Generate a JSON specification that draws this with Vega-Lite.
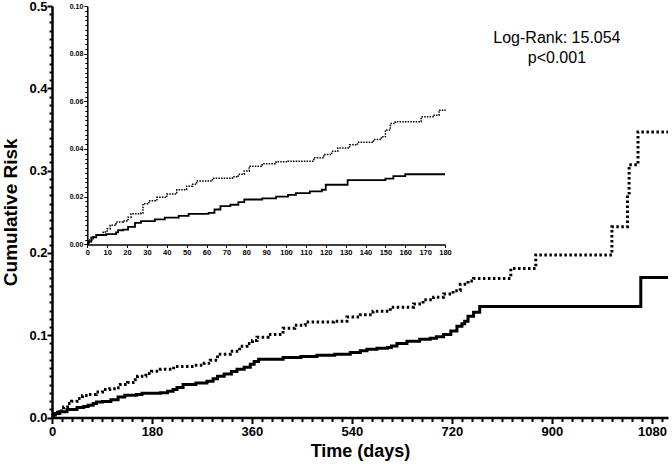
{
  "$schema": "https://vega.github.io/schema/vega-lite/v6.json",
  "width": 616,
  "height": 411.5,
  "autosize": {"type": "none"},
  "padding": {"left": 52, "top": 6, "right": 4, "bottom": 50.5},
  "config": {
    "view": {"stroke": null},
    "axis": {"grid": false, "domainColor": "black", "tickColor": "black", "labelColor": "black", "titleColor": "black", "labelFont": "Liberation Sans", "titleFont": "Liberation Sans", "labelOverlap": false}
  },
  "datasets": {
    "main": [
      {"day": 0, "risk": 0, "group": "A"},
      {"day": 2, "risk": 0.003, "group": "A"},
      {"day": 6, "risk": 0.005, "group": "A"},
      {"day": 14, "risk": 0.007, "group": "A"},
      {"day": 27, "risk": 0.0097, "group": "A"},
      {"day": 45, "risk": 0.012, "group": "A"},
      {"day": 57, "risk": 0.0134, "group": "A"},
      {"day": 65, "risk": 0.015, "group": "A"},
      {"day": 74, "risk": 0.017, "group": "A"},
      {"day": 80, "risk": 0.0188, "group": "A"},
      {"day": 91, "risk": 0.0195, "group": "A"},
      {"day": 106, "risk": 0.0215, "group": "A"},
      {"day": 119, "risk": 0.025, "group": "A"},
      {"day": 131, "risk": 0.027, "group": "A"},
      {"day": 152, "risk": 0.028, "group": "A"},
      {"day": 162, "risk": 0.0294, "group": "A"},
      {"day": 195, "risk": 0.030, "group": "A"},
      {"day": 208, "risk": 0.032, "group": "A"},
      {"day": 218, "risk": 0.034, "group": "A"},
      {"day": 225, "risk": 0.0366, "group": "A"},
      {"day": 236, "risk": 0.040, "group": "A"},
      {"day": 259, "risk": 0.042, "group": "A"},
      {"day": 279, "risk": 0.044, "group": "A"},
      {"day": 290, "risk": 0.047, "group": "A"},
      {"day": 298, "risk": 0.050, "group": "A"},
      {"day": 310, "risk": 0.053, "group": "A"},
      {"day": 323, "risk": 0.056, "group": "A"},
      {"day": 333, "risk": 0.0585, "group": "A"},
      {"day": 346, "risk": 0.061, "group": "A"},
      {"day": 357, "risk": 0.0646, "group": "A"},
      {"day": 364, "risk": 0.068, "group": "A"},
      {"day": 372, "risk": 0.0707, "group": "A"},
      {"day": 416, "risk": 0.073, "group": "A"},
      {"day": 448, "risk": 0.074, "group": "A"},
      {"day": 477, "risk": 0.0756, "group": "A"},
      {"day": 509, "risk": 0.077, "group": "A"},
      {"day": 537, "risk": 0.079, "group": "A"},
      {"day": 555, "risk": 0.081, "group": "A"},
      {"day": 567, "risk": 0.083, "group": "A"},
      {"day": 585, "risk": 0.084, "group": "A"},
      {"day": 604, "risk": 0.085, "group": "A"},
      {"day": 611, "risk": 0.087, "group": "A"},
      {"day": 621, "risk": 0.090, "group": "A"},
      {"day": 639, "risk": 0.0927, "group": "A"},
      {"day": 662, "risk": 0.095, "group": "A"},
      {"day": 681, "risk": 0.0963, "group": "A"},
      {"day": 692, "risk": 0.098, "group": "A"},
      {"day": 705, "risk": 0.101, "group": "A"},
      {"day": 718, "risk": 0.105, "group": "A"},
      {"day": 729, "risk": 0.111, "group": "A"},
      {"day": 738, "risk": 0.114, "group": "A"},
      {"day": 743, "risk": 0.117, "group": "A"},
      {"day": 749, "risk": 0.123, "group": "A"},
      {"day": 759, "risk": 0.128, "group": "A"},
      {"day": 770, "risk": 0.135, "group": "A"},
      {"day": 1060, "risk": 0.170, "group": "A"},
      {"day": 1109, "risk": 0.170, "group": "A"},
      {"day": 0, "risk": 0, "group": "B"},
      {"day": 4, "risk": 0.004, "group": "B"},
      {"day": 10, "risk": 0.0065, "group": "B"},
      {"day": 17, "risk": 0.0098, "group": "B"},
      {"day": 21, "risk": 0.0128, "group": "B"},
      {"day": 28, "risk": 0.017, "group": "B"},
      {"day": 35, "risk": 0.0197, "group": "B"},
      {"day": 45, "risk": 0.023, "group": "B"},
      {"day": 55, "risk": 0.0266, "group": "B"},
      {"day": 65, "risk": 0.028, "group": "B"},
      {"day": 80, "risk": 0.031, "group": "B"},
      {"day": 91, "risk": 0.034, "group": "B"},
      {"day": 104, "risk": 0.035, "group": "B"},
      {"day": 116, "risk": 0.0363, "group": "B"},
      {"day": 123, "risk": 0.040, "group": "B"},
      {"day": 136, "risk": 0.0425, "group": "B"},
      {"day": 150, "risk": 0.046, "group": "B"},
      {"day": 154, "risk": 0.050, "group": "B"},
      {"day": 169, "risk": 0.0535, "group": "B"},
      {"day": 179, "risk": 0.0563, "group": "B"},
      {"day": 195, "risk": 0.0585, "group": "B"},
      {"day": 219, "risk": 0.062, "group": "B"},
      {"day": 255, "risk": 0.0634, "group": "B"},
      {"day": 274, "risk": 0.066, "group": "B"},
      {"day": 285, "risk": 0.0697, "group": "B"},
      {"day": 298, "risk": 0.0768, "group": "B"},
      {"day": 321, "risk": 0.0805, "group": "B"},
      {"day": 338, "risk": 0.0866, "group": "B"},
      {"day": 351, "risk": 0.090, "group": "B"},
      {"day": 361, "risk": 0.0935, "group": "B"},
      {"day": 369, "risk": 0.0976, "group": "B"},
      {"day": 389, "risk": 0.101, "group": "B"},
      {"day": 416, "risk": 0.1085, "group": "B"},
      {"day": 437, "risk": 0.112, "group": "B"},
      {"day": 456, "risk": 0.1159, "group": "B"},
      {"day": 507, "risk": 0.117, "group": "B"},
      {"day": 531, "risk": 0.122, "group": "B"},
      {"day": 555, "risk": 0.125, "group": "B"},
      {"day": 578, "risk": 0.129, "group": "B"},
      {"day": 609, "risk": 0.134, "group": "B"},
      {"day": 651, "risk": 0.138, "group": "B"},
      {"day": 668, "risk": 0.143, "group": "B"},
      {"day": 687, "risk": 0.146, "group": "B"},
      {"day": 705, "risk": 0.150, "group": "B"},
      {"day": 722, "risk": 0.154, "group": "B"},
      {"day": 735, "risk": 0.162, "group": "B"},
      {"day": 749, "risk": 0.166, "group": "B"},
      {"day": 759, "risk": 0.169, "group": "B"},
      {"day": 826, "risk": 0.181, "group": "B"},
      {"day": 871, "risk": 0.1976, "group": "B"},
      {"day": 1008, "risk": 0.2317, "group": "B"},
      {"day": 1036, "risk": 0.27, "group": "B"},
      {"day": 1039, "risk": 0.307, "group": "B"},
      {"day": 1055, "risk": 0.347, "group": "B"},
      {"day": 1109, "risk": 0.347, "group": "B"}
    ],
    "inset": [
      {"day": 0, "risk": 0, "group": "A"},
      {"day": 0.5, "risk": 0.0011, "group": "A"},
      {"day": 2, "risk": 0.0029, "group": "A"},
      {"day": 4.5, "risk": 0.0039, "group": "A"},
      {"day": 9.5, "risk": 0.0043, "group": "A"},
      {"day": 14.5, "risk": 0.005, "group": "A"},
      {"day": 15.5, "risk": 0.0059, "group": "A"},
      {"day": 18, "risk": 0.0062, "group": "A"},
      {"day": 20.5, "risk": 0.0073, "group": "A"},
      {"day": 24, "risk": 0.009, "group": "A"},
      {"day": 27, "risk": 0.0097, "group": "A"},
      {"day": 34, "risk": 0.0105, "group": "A"},
      {"day": 39, "risk": 0.0112, "group": "A"},
      {"day": 46, "risk": 0.0119, "group": "A"},
      {"day": 51, "risk": 0.0128, "group": "A"},
      {"day": 61, "risk": 0.0132, "group": "A"},
      {"day": 64, "risk": 0.0146, "group": "A"},
      {"day": 67, "risk": 0.016, "group": "A"},
      {"day": 72, "risk": 0.0166, "group": "A"},
      {"day": 76, "risk": 0.0177, "group": "A"},
      {"day": 79, "risk": 0.0188, "group": "A"},
      {"day": 88, "risk": 0.0193, "group": "A"},
      {"day": 95, "risk": 0.02, "group": "A"},
      {"day": 101, "risk": 0.0207, "group": "A"},
      {"day": 105, "risk": 0.0215, "group": "A"},
      {"day": 112, "risk": 0.0222, "group": "A"},
      {"day": 118, "risk": 0.0229, "group": "A"},
      {"day": 120, "risk": 0.025, "group": "A"},
      {"day": 131, "risk": 0.0269, "group": "A"},
      {"day": 150, "risk": 0.0276, "group": "A"},
      {"day": 154, "risk": 0.0286, "group": "A"},
      {"day": 160, "risk": 0.0294, "group": "A"},
      {"day": 180, "risk": 0.0294, "group": "A"},
      {"day": 0, "risk": 0, "group": "B"},
      {"day": 1, "risk": 0.0018, "group": "B"},
      {"day": 3, "risk": 0.0032, "group": "B"},
      {"day": 4.5, "risk": 0.0039, "group": "B"},
      {"day": 8, "risk": 0.0052, "group": "B"},
      {"day": 10, "risk": 0.0065, "group": "B"},
      {"day": 11.5, "risk": 0.008, "group": "B"},
      {"day": 14.5, "risk": 0.0094, "group": "B"},
      {"day": 18, "risk": 0.0098, "group": "B"},
      {"day": 20.5, "risk": 0.0114, "group": "B"},
      {"day": 22, "risk": 0.0128, "group": "B"},
      {"day": 27, "risk": 0.0131, "group": "B"},
      {"day": 28, "risk": 0.017, "group": "B"},
      {"day": 31, "risk": 0.0183, "group": "B"},
      {"day": 35, "risk": 0.0197, "group": "B"},
      {"day": 40, "risk": 0.0211, "group": "B"},
      {"day": 45, "risk": 0.0229, "group": "B"},
      {"day": 50, "risk": 0.0244, "group": "B"},
      {"day": 53, "risk": 0.0252, "group": "B"},
      {"day": 55, "risk": 0.0266, "group": "B"},
      {"day": 63, "risk": 0.0277, "group": "B"},
      {"day": 73, "risk": 0.0283, "group": "B"},
      {"day": 76, "risk": 0.0294, "group": "B"},
      {"day": 79, "risk": 0.0308, "group": "B"},
      {"day": 81.5, "risk": 0.0328, "group": "B"},
      {"day": 88, "risk": 0.0338, "group": "B"},
      {"day": 95, "risk": 0.0346, "group": "B"},
      {"day": 101, "risk": 0.0349, "group": "B"},
      {"day": 114, "risk": 0.0363, "group": "B"},
      {"day": 119, "risk": 0.0377, "group": "B"},
      {"day": 123, "risk": 0.039, "group": "B"},
      {"day": 126, "risk": 0.0404, "group": "B"},
      {"day": 132, "risk": 0.0418, "group": "B"},
      {"day": 136, "risk": 0.0428, "group": "B"},
      {"day": 144, "risk": 0.044, "group": "B"},
      {"day": 148, "risk": 0.0451, "group": "B"},
      {"day": 150, "risk": 0.048, "group": "B"},
      {"day": 152.5, "risk": 0.0507, "group": "B"},
      {"day": 155, "risk": 0.0514, "group": "B"},
      {"day": 168, "risk": 0.0535, "group": "B"},
      {"day": 174, "risk": 0.0542, "group": "B"},
      {"day": 177, "risk": 0.0563, "group": "B"},
      {"day": 180, "risk": 0.0566, "group": "B"}
    ]
  },
  "layer": [
    {
      "layer": [
        {
          "data": {"name": "main"},
          "transform": [{"filter": "datum.group === 'A'"}],
          "mark": {"type": "line", "interpolate": "step-after", "color": "black", "strokeWidth": 3, "strokeCap": "butt"},
          "encoding": {
            "x": {
              "field": "day", "type": "quantitative",
              "scale": {"domain": [0, 1109], "nice": false, "zero": false},
              "axis": {
                "title": "Time (days)",
                "titleFontSize": 18, "titleFontWeight": "bold", "titlePadding": 4,
                "tickCount": 1000,
                "values": [0,18,36,54,72,90,108,126,144,162,180,198,216,234,252,270,288,306,324,342,360,378,396,414,432,450,468,486,504,522,540,558,576,594,612,630,648,666,684,702,720,738,756,774,792,810,828,846,864,882,900,918,936,954,972,990,1008,1026,1044,1062,1080,1098],
                "labelExpr": "datum.value % 180 === 0 ? format(datum.value, 'd') : ''",
                "labelFlush": false, "labelFontSize": 13, "labelFontWeight": "bold", "labelPadding": 2,
                "domainWidth": 2.5, "tickWidth": 2,
                "tickSize": {"condition": {"test": "datum.value % 180 === 0", "value": 6}, "value": 4}
              }
            },
            "y": {
              "field": "risk", "type": "quantitative",
              "scale": {"domain": [0, 0.5], "nice": false},
              "axis": {
                "title": "Cumulative Risk",
                "titleFontSize": 19, "titleFontWeight": "bold", "titlePadding": 8,
                "tickCount": 1000,
                "values": [0,0.01,0.02,0.03,0.04,0.05,0.06,0.07,0.08,0.09,0.1,0.11,0.12,0.13,0.14,0.15,0.16,0.17,0.18,0.19,0.2,0.21,0.22,0.23,0.24,0.25,0.26,0.27,0.28,0.29,0.3,0.31,0.32,0.33,0.34,0.35,0.36,0.37,0.38,0.39,0.4,0.41,0.42,0.43,0.44,0.45,0.46,0.47,0.48,0.49,0.5],
                "labelExpr": "round(datum.value*100) % 10 === 0 ? format(datum.value, '.1f') : ''",
                "labelFlush": false, "labelFontSize": 13, "labelFontWeight": "bold", "labelPadding": 0,
                "domainWidth": 2.5, "tickWidth": 2,
                "tickSize": {"condition": {"test": "round(datum.value*100) % 10 === 0", "value": 5}, "value": 3}
              }
            }
          }
        },
        {
          "data": {"name": "main"},
          "transform": [{"filter": "datum.group === 'B'"}],
          "mark": {"type": "line", "interpolate": "step-after", "color": "black", "strokeWidth": 3, "strokeDash": [2.5, 2.5], "strokeCap": "butt"},
          "encoding": {
            "x": {"field": "day", "type": "quantitative"},
            "y": {"field": "risk", "type": "quantitative"}
          }
        },
        {
          "data": {"values": [{}]},
          "mark": {"type": "text", "text": "Log-Rank: 15.054", "font": "Liberation Sans", "fontSize": 16, "align": "center", "baseline": "middle", "color": "black"},
          "encoding": {
            "x": {"datum": 909, "type": "quantitative"},
            "y": {"datum": 0.461, "type": "quantitative"}
          }
        },
        {
          "data": {"values": [{}]},
          "mark": {"type": "text", "text": "p<0.001", "font": "Liberation Sans", "fontSize": 16, "align": "center", "baseline": "middle", "color": "black"},
          "encoding": {
            "x": {"datum": 909, "type": "quantitative"},
            "y": {"datum": 0.4368, "type": "quantitative"}
          }
        }
      ]
    },
    {
      "layer": [
        {
          "data": {"name": "inset"},
          "transform": [{"filter": "datum.group === 'A'"}],
          "mark": {"type": "line", "interpolate": "step-after", "color": "black", "strokeWidth": 1.8, "strokeCap": "butt"},
          "encoding": {
            "x": {
              "field": "day", "type": "quantitative",
              "scale": {"domain": [0, 180], "range": [35.3, 393], "nice": false, "zero": false},
              "axis": {
                "orient": "bottom", "offset": -173, "title": null,
                "tickCount": 1000,
                "values": [0,10,20,30,40,50,60,70,80,90,100,110,120,130,140,150,160,170,180],
                "labelExpr": "format(datum.value, 'd')",
                "labelFlush": false, "labelFontSize": 7.5, "labelFontWeight": "bold", "labelPadding": 1,
                "domainWidth": 1.5, "tickWidth": 1, "tickSize": 3
              }
            },
            "y": {
              "field": "risk", "type": "quantitative",
              "scale": {"domain": [0, 0.1], "range": [238.3, 0], "nice": false},
              "axis": {
                "orient": "left", "offset": -35.3, "title": null,
                "tickCount": 1000,
                "values": [0,0.002,0.004,0.006,0.008,0.01,0.012,0.014,0.016,0.018,0.02,0.022,0.024,0.026,0.028,0.03,0.032,0.034,0.036,0.038,0.04,0.042,0.044,0.046,0.048,0.05,0.052,0.054,0.056,0.058,0.06,0.062,0.064,0.066,0.068,0.07,0.072,0.074,0.076,0.078,0.08,0.082,0.084,0.086,0.088,0.09,0.092,0.094,0.096,0.098,0.1],
                "labelExpr": "round(datum.value*1000) % 20 === 0 ? format(datum.value, '.2f') : ''",
                "labelFlush": false, "labelFontSize": 7, "labelFontWeight": "bold", "labelPadding": 1,
                "domainWidth": 1.5, "tickWidth": 1,
                "tickSize": {"condition": {"test": "round(datum.value*1000) % 20 === 0", "value": 3.5}, "value": 2.5}
              }
            }
          }
        },
        {
          "data": {"name": "inset"},
          "transform": [{"filter": "datum.group === 'B'"}],
          "mark": {"type": "line", "interpolate": "step-after", "color": "black", "strokeWidth": 1.5, "strokeDash": [1.5, 1.2], "strokeCap": "butt"},
          "encoding": {
            "x": {"field": "day", "type": "quantitative"},
            "y": {"field": "risk", "type": "quantitative"}
          }
        }
      ]
    }
  ],
  "resolve": {"scale": {"x": "independent", "y": "independent"}}
}
